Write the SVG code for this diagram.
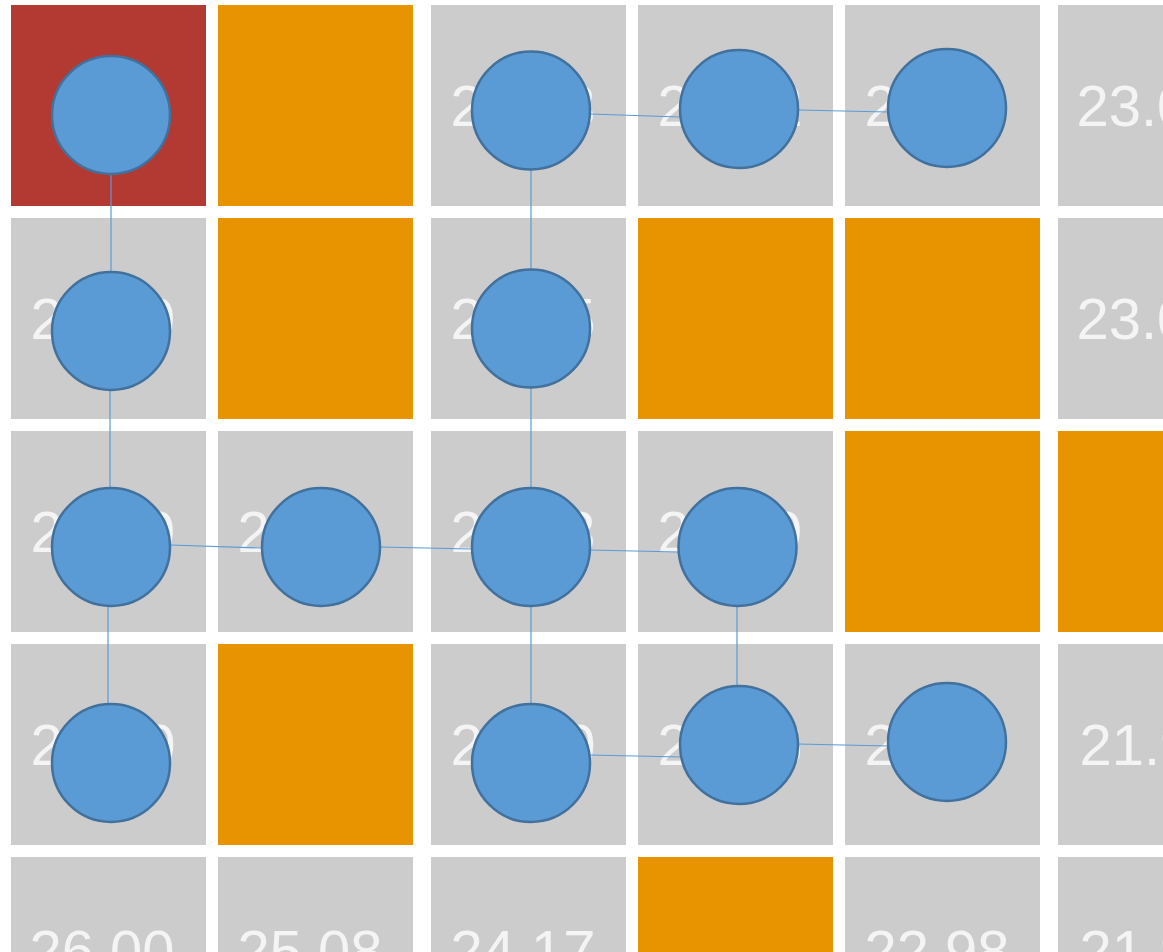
<svg xmlns="http://www.w3.org/2000/svg" width="1163" height="952" viewBox="0 0 1163 952">
<style>
.g{fill:#cccccc}.o{fill:#e89300}.r{fill:#b33a32}
.t{font-family:"Liberation Sans",Arial,sans-serif;font-size:58px;fill:#f4f4f4;text-anchor:middle}
.n{fill:#5b9bd5;stroke:#41719c;stroke-width:2.5}
.c{stroke:#5b9bd5;stroke-width:1.2;fill:none}
</style>
<rect width="1163" height="952" fill="#ffffff"/>
<g id="cells">
<rect class="r" x="11" y="5" width="195" height="201"/>
<rect class="o" x="218" y="5" width="195" height="201"/>
<rect class="g" x="431" y="5" width="195" height="201"/>
<rect class="g" x="638" y="5" width="195" height="201"/>
<rect class="g" x="845" y="5" width="195" height="201"/>
<rect class="g" x="1058" y="5" width="195" height="201"/>
<rect class="g" x="11" y="218" width="195" height="201"/>
<rect class="o" x="218" y="218" width="195" height="201"/>
<rect class="g" x="431" y="218" width="195" height="201"/>
<rect class="o" x="638" y="218" width="195" height="201"/>
<rect class="o" x="845" y="218" width="195" height="201"/>
<rect class="g" x="1058" y="218" width="195" height="201"/>
<rect class="g" x="11" y="431" width="195" height="201"/>
<rect class="g" x="218" y="431" width="195" height="201"/>
<rect class="g" x="431" y="431" width="195" height="201"/>
<rect class="g" x="638" y="431" width="195" height="201"/>
<rect class="o" x="845" y="431" width="195" height="201"/>
<rect class="o" x="1058" y="431" width="195" height="201"/>
<rect class="g" x="11" y="644" width="195" height="201"/>
<rect class="o" x="218" y="644" width="195" height="201"/>
<rect class="g" x="431" y="644" width="195" height="201"/>
<rect class="g" x="638" y="644" width="195" height="201"/>
<rect class="g" x="845" y="644" width="195" height="201"/>
<rect class="g" x="1058" y="644" width="195" height="201"/>
<rect class="g" x="11" y="857" width="195" height="201"/>
<rect class="g" x="218" y="857" width="195" height="201"/>
<rect class="g" x="431" y="857" width="195" height="201"/>
<rect class="o" x="638" y="857" width="195" height="201"/>
<rect class="g" x="845" y="857" width="195" height="201"/>
<rect class="g" x="1058" y="857" width="195" height="201"/>
</g>
<g id="values">
<text class="t" x="523" y="126">24.83</text>
<text class="t" x="730" y="126">23.92</text>
<text class="t" x="937" y="126">23.49</text>
<text class="t" x="1149" y="126">23.05</text>
<text class="t" x="103" y="339">25.49</text>
<text class="t" x="523" y="339">24.75</text>
<text class="t" x="1149" y="339">23.06</text>
<text class="t" x="103" y="552">25.79</text>
<text class="t" x="310" y="552">25.01</text>
<text class="t" x="523" y="552">24.53</text>
<text class="t" x="730" y="552">23.69</text>
<text class="t" x="103" y="765">25.90</text>
<text class="t" x="523" y="765">24.40</text>
<text class="t" x="730" y="765">23.26</text>
<text class="t" x="937" y="765">22.49</text>
<text class="t" x="1152" y="765">21.93</text>
<text class="t" x="102" y="971">26.00</text>
<text class="t" x="310" y="971">25.08</text>
<text class="t" x="523" y="971">24.17</text>
<text class="t" x="937" y="971">22.98</text>
<text class="t" x="1152" y="971">21.99</text>
</g>
<g id="connectors">
<line class="c" x1="111" y1="174" x2="111" y2="272"/>
<line class="c" x1="110" y1="390" x2="110" y2="488"/>
<line class="c" x1="108" y1="606" x2="108" y2="704"/>
<line class="c" x1="531" y1="170" x2="531" y2="269"/>
<line class="c" x1="531" y1="388" x2="531" y2="488"/>
<line class="c" x1="531" y1="606" x2="531" y2="704"/>
<line class="c" x1="737" y1="606" x2="737" y2="686"/>
<line class="c" x1="590" y1="114" x2="680" y2="117"/>
<line class="c" x1="798" y1="110" x2="888" y2="112"/>
<line class="c" x1="170" y1="545" x2="262" y2="548"/>
<line class="c" x1="380" y1="547" x2="472" y2="549"/>
<line class="c" x1="589" y1="550" x2="679" y2="552"/>
<line class="c" x1="590" y1="755" x2="681" y2="757"/>
<line class="c" x1="798" y1="744" x2="889" y2="746"/>
</g>
<g id="n1"><circle class="n" cx="111" cy="115" r="59"/></g>
<g id="n2"><circle class="n" cx="531" cy="110.5" r="59"/></g>
<g id="n3"><circle class="n" cx="739" cy="109" r="59"/></g>
<g id="n4"><circle class="n" cx="947" cy="108" r="59"/></g>
<g id="n5"><circle class="n" cx="111" cy="331" r="59"/></g>
<g id="n6"><circle class="n" cx="531" cy="328.5" r="59"/></g>
<g id="n7"><circle class="n" cx="111" cy="547" r="59"/></g>
<g id="n8"><circle class="n" cx="321" cy="547" r="59"/></g>
<g id="n9"><circle class="n" cx="531" cy="547" r="59"/></g>
<g id="n10"><circle class="n" cx="737.5" cy="547" r="59"/></g>
<g id="n11"><circle class="n" cx="111" cy="763" r="59"/></g>
<g id="n12"><circle class="n" cx="531" cy="763" r="59"/></g>
<g id="n13"><circle class="n" cx="739" cy="745" r="59"/></g>
<g id="n14"><circle class="n" cx="947" cy="742" r="59"/></g>
</svg>
